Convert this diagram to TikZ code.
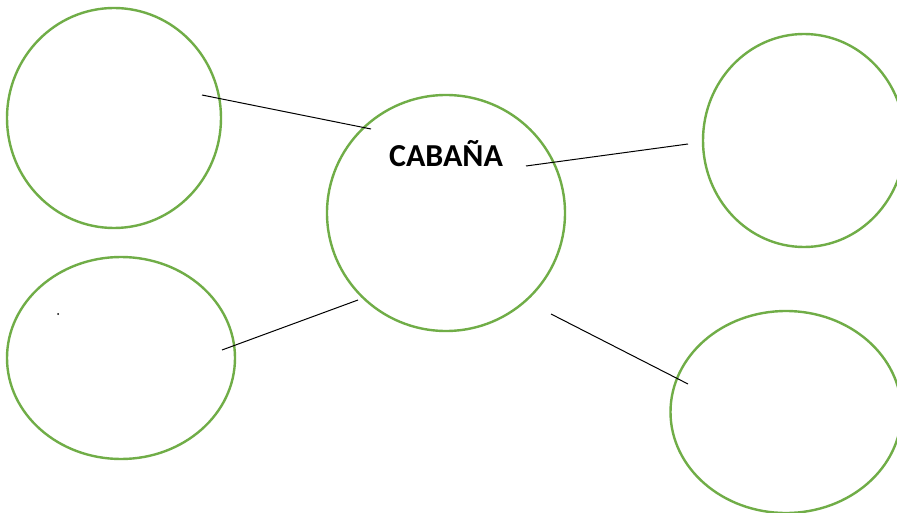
\documentclass[tikz,border=0pt]{standalone}
\usepackage{fontspec}
\setmainfont{Carlito}
\usetikzlibrary{shapes.geometric}
\definecolor{ogreen}{RGB}{112,173,71}
\begin{document}
\begin{tikzpicture}[x=1pt,y=-1pt,
  bubble/.style={draw=ogreen,line width=2.4pt,ellipse,inner sep=0pt},
  link/.style={draw=black,line width=1pt}]
\clip (0,0) rectangle (897,513);
\fill[white] (0,0) rectangle (897,513);
\node[bubble,minimum width=214pt,minimum height=220pt] (tl) at (114,118) {};
\node[bubble,minimum width=228pt,minimum height=202pt] (bl) at (121,358) {};
\node[bubble,minimum width=238pt,minimum height=236pt] (c) at (446,213) {};
\node[bubble,minimum width=202pt,minimum height=213pt] (tr) at (804,140.5) {};
\node[bubble,minimum width=231pt,minimum height=202pt] (br) at (786,412) {};
\node[font=\bfseries\fontsize{32}{36}\selectfont,inner sep=0pt,anchor=base] (title) at (446,167) {CABAÑA};
\coordinate (a1) at (202,95); \coordinate (a2) at (371,129);
\coordinate (b1) at (526,166); \coordinate (b2) at (688,144);
\coordinate (d1) at (222,350); \coordinate (d2) at (358,300);
\coordinate (e1) at (551,314); \coordinate (e2) at (688,384);
\draw[link] (a1) -- (a2);
\draw[link] (b1) -- (b2);
\draw[link] (d1) -- (d2);
\draw[link] (e1) -- (e2);
\fill[black] (58,314) circle (1pt) coordinate (dot);
\end{tikzpicture}
\end{document}
